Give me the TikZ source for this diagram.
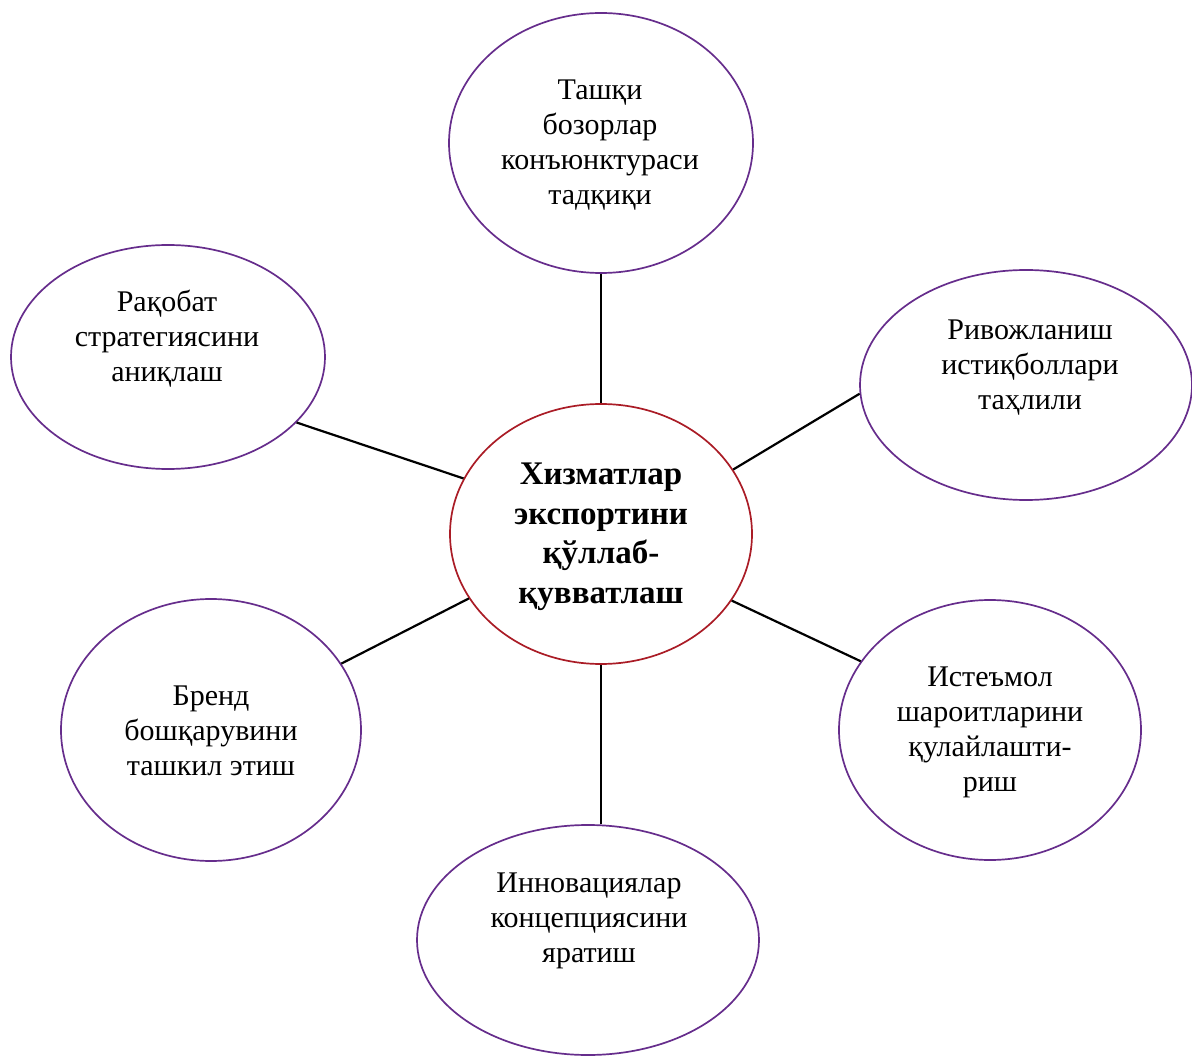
\documentclass[tikz,border=0pt]{standalone}
\usepackage{fontspec}
\setmainfont{Liberation Serif}
\usetikzlibrary{shapes.geometric,calc}
\definecolor{ellpurple}{RGB}{102,45,140}
\definecolor{ellred}{RGB}{170,28,38}
\tikzset{
  ell/.style={ellipse, draw=ellpurple, line width=1.7pt, inner sep=0pt, fill=white},
  hub/.style={ellipse, draw=ellred, line width=1.7pt, inner sep=0pt, fill=white},
  txt/.style={align=center, inner sep=0pt, font=\fontsize{30}{35}\selectfont},
  hubtxt/.style={align=center, inner sep=0pt, font=\fontsize{33}{39.5}\selectfont\bfseries},
  link/.style={draw=black, line width=2.2pt}
}
\begin{document}
\begin{tikzpicture}[x=1pt,y=-1pt]
\useasboundingbox (0,0) rectangle (1192,1056);
% ellipses
\node[ell, minimum width=304pt, minimum height=260pt] (A) at (601,143) {};
\node[ell, minimum width=314pt, minimum height=224pt] (B) at (168,357) {};
\node[ell, minimum width=332pt, minimum height=230pt] (C) at (1026,385) {};
\node[hub, minimum width=302pt, minimum height=260pt] (D) at (601,534) {};
\node[ell, minimum width=300pt, minimum height=262pt] (E) at (211,730) {};
\node[ell, minimum width=302pt, minimum height=260pt] (F) at (990,730) {};
\node[ell, minimum width=342pt, minimum height=230pt] (G) at (588,940) {};
% connectors
\draw[link] (A.south) -- (D.north);
\draw[link] (B.-27.5) -- (D.158.75);
\draw[link] (D.26) -- (C.183.4);
\draw[link] (D.-27) -- (F.152.7);
\draw[link] (E.27) -- (D.206.7);
\draw[link] (D.south) -- (D.south |- G.north);
% texts
\node[txt] (At) at (600,145) {Ташқи\\бозорлар\\конъюнктураси\\тадқиқи};
\node[txt] (Bt) at (167,339) {Рақобат\\стратегиясини\\аниқлаш};
\node[txt] (Ct) at (1030,368) {Ривожланиш\\истиқболлари\\таҳлили};
\node[hubtxt] (Dt) at (601,537) {Хизматлар\\экспортини\\қўллаб-\\қувватлаш};
\node[txt] (Et) at (211,731) {Бренд\\бошқарувини\\ташкил этиш};
\node[txt] (Ft) at (990,732) {Истеъмол\\шароитларини\\қулайлашти-\\риш};
\node[txt] (Gt) at (589,921) {Инновациялар\\концепциясини\\яратиш};
\end{tikzpicture}
\end{document}
